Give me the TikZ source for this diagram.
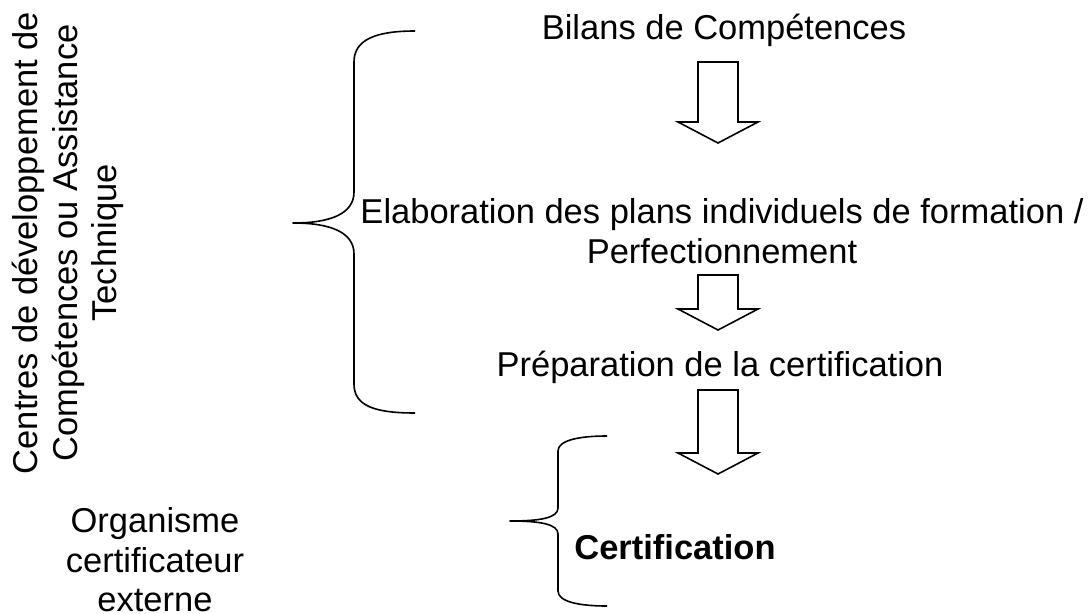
\documentclass[tikz,border=0pt]{standalone}
\usepackage{fontspec}
\setmainfont{Liberation Sans}
\begin{document}
\begin{tikzpicture}[x=1pt,y=-1pt,
  lbl/.style={font=\fontsize{34.5}{39.5}\selectfont, inner sep=0pt, align=center},
  brace/.style={draw=black, line width=1.6pt, line join=round},
  barrow/.style={draw=black, line width=1.6pt, fill=white, line join=miter}]
\useasboundingbox (0,0) rectangle (1089,613);
% text nodes
\node[lbl] (bilans) at (724,30) {Bilans de Compétences};
\node[lbl] (elab) at (722,231) {Elaboration des plans individuels de formation /\\Perfectionnement};
\node[lbl] (prep) at (720,367) {Préparation de la certification};
\node[lbl, font=\fontsize{34.5}{39.5}\selectfont\bfseries] (cert) at (675,547) {Certification};
\node[lbl, rotate=90] (centres) at (68,243) {Centres de développement de\\Compétences ou Assistance\\Technique};
\node[lbl] (orga) at (155,560) {Organisme\\certificateur\\externe};
% block arrows
\newcommand\blockarr[4]{% name, x, top, tip
  \coordinate (#1) at (#2,#3);
  \draw[barrow] ([xshift=-20pt]#1) -- ([xshift=-20pt,yshift=-(#4-#3-21)*1pt]#1)
    -- ([xshift=-40pt,yshift=-(#4-#3-21)*1pt]#1) -- ([yshift=-(#4-#3)*1pt]#1)
    -- ([xshift=40pt,yshift=-(#4-#3-21)*1pt]#1) -- ([xshift=20pt,yshift=-(#4-#3-21)*1pt]#1)
    -- ([xshift=20pt]#1) -- cycle;}
\blockarr{a1}{718}{62}{143}
\blockarr{a2}{718}{275}{330}
\blockarr{a3}{718}{390}{474}
% braces
\draw[brace] (415,31) .. controls (375,31) and (354,40) .. (354,62) -- (354,192)
  .. controls (354,214) and (330,223) .. (293,223)
  .. controls (330,223) and (354,232) .. (354,254) -- (354,384)
  .. controls (354,406) and (375,413) .. (415,413);
\draw[brace] (607,436) .. controls (580,436) and (558,440) .. (558,451) -- (558,508)
  .. controls (558,518) and (540,521) .. (510,521)
  .. controls (540,521) and (558,524) .. (558,534) -- (558,591)
  .. controls (558,602) and (580,606) .. (607,606);
\end{tikzpicture}
\end{document}
